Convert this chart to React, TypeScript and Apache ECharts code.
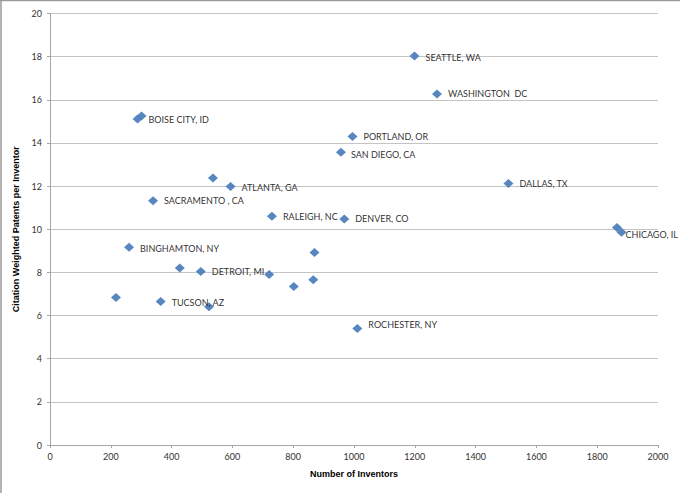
import React, { useEffect, useRef } from 'react';
import * as echarts from 'echarts';

// metro areas: inventors vs citation weighted patents per inventor
const cityNames = [
  'SEATTLE, WA', 'WASHINGTON  DC', 'PORTLAND, OR', 'SAN DIEGO, CA', 'DALLAS, TX',
  'DENVER, CO', 'CHICAGO, IL', '', 'BOISE CITY, ID', '', 'ATLANTA, GA', '',
  'SACRAMENTO , CA', 'RALEIGH, NC', 'BINGHAMTON, NY', 'DETROIT, MI', 'TUCSON, AZ',
  'ROCHESTER, NY', '', '', '', '', '', '', '',
];
const inventors = [
  1199, 1273, 995, 957, 1508,
  968, 1880, 1865, 288, 301, 594, 536,
  339, 730, 260, 496, 364,
  1011, 427, 721, 870, 802, 866, 217, 523,
];
const patentsPerInventor = [
  18.03, 16.27, 14.3, 13.57, 12.12,
  10.48, 9.86, 10.08, 15.11, 15.25, 11.98, 12.38,
  11.32, 10.6, 9.16, 8.04, 6.65,
  5.4, 8.2, 7.9, 8.92, 7.35, 7.66, 6.84, 6.41,
];

// a few labels sit a little off the default spot
const labelNudge: Record<string, number[]> = {
  'CHICAGO, IL': [-7, 2],
  'ROCHESTER, NY': [0, -4],
  'SEATTLE, WA': [0, 1],
  'SAN DIEGO, CA': [-1, 2],
  'BINGHAMTON, NY': [0, 1],
  'ATLANTA, GA': [0, 1],
  'TUCSON, AZ': [0, 1],
};

const App: React.FC = () => {
  const chartRef = useRef<HTMLDivElement>(null);

  useEffect(() => {
    if (!chartRef.current) return;
    const chart = echarts.init(chartRef.current, undefined, { renderer: 'svg' });

    const points = inventors.map((x, i) => {
      const name = cityNames[i];
      return {
        value: [x, patentsPerInventor[i]],
        name,
        label: {
          show: name !== '',
          offset: labelNudge[name] || [0, 0],
        },
      };
    });

    const option: echarts.EChartsOption = {
      animation: false,
      backgroundColor: '#ffffff',
      textStyle: { fontFamily: 'Lato' },
      grid: { left: 50, right: 22, top: 13.5, bottom: 48 },
      xAxis: {
        type: 'value',
        min: 0,
        max: 2000,
        interval: 200,
        name: 'Number of Inventors',
        nameLocation: 'middle',
        nameGap: 24,
        nameTextStyle: { fontFamily: 'Liberation Sans', fontWeight: 'bold', fontSize: 9, color: '#000' },
        axisLine: { lineStyle: { color: '#a6a6a6' } },
        axisTick: { show: true, length: 3, lineStyle: { color: '#a6a6a6' } },
        axisLabel: { fontSize: 9, color: '#333', margin: 7, formatter: (v: number) => String(v) },
        splitLine: { show: false },
      },
      yAxis: {
        type: 'value',
        min: 0,
        max: 20,
        interval: 2,
        name: 'Citation Weighted Patents per Inventor',
        nameLocation: 'middle',
        nameGap: 23,
        nameRotate: 90,
        nameTextStyle: { fontFamily: 'Liberation Sans', fontWeight: 'bold', fontSize: 9, color: '#000' },
        axisLine: { show: true, lineStyle: { color: '#a6a6a6' } },
        axisTick: { show: true, length: 3, lineStyle: { color: '#a6a6a6' } },
        axisLabel: { fontSize: 9, color: '#333', margin: 8 },
        splitLine: { lineStyle: { color: '#c4c4c4' } },
      },
      series: [
        {
          type: 'scatter',
          symbol: 'diamond',
          symbolSize: [10, 9],
          itemStyle: { color: '#4f81bd', opacity: 0.95 },
          label: {
            position: 'right',
            distance: 6,
            formatter: '{b}',
            fontSize: 9,
            color: '#222',
          },
          data: points,
        },
      ],
      graphic: [
        { type: 'line', shape: { x1: 1, y1: 0, x2: 1, y2: 493 }, style: { stroke: '#9a9a9a', lineWidth: 1.5 } },
        { type: 'line', shape: { x1: 0, y1: 0.5, x2: 680, y2: 0.5 }, style: { stroke: '#9a9a9a', lineWidth: 1.5 } },
      ],
    };

    chart.setOption(option);

    return () => {
      chart.dispose();
    };
  }, []);

  return (
    <div
      ref={chartRef}
      style={{ position: 'fixed', left: 0, top: 0, width: '680px', height: '493px' }}
    />
  );
};

export default App;
